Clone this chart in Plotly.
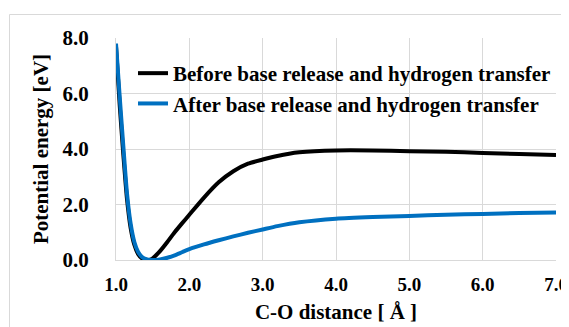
import plotly.graph_objects as go

# Data
x_before = [1.0, 1.05, 1.1, 1.15, 1.2, 1.25, 1.3, 1.35, 1.4, 1.45, 1.5, 1.55, 1.6, 1.7, 1.8, 1.9, 2.0,
            2.2, 2.4, 2.6, 2.8, 3.0, 3.2, 3.5, 4.0, 4.5, 5.0, 5.5, 6.0, 6.5, 7.0]
e_before = [7.7, 5.6, 3.8, 2.2, 1.15, 0.55, 0.22, 0.07, 0.02, 0.0, 0.06, 0.18, 0.32, 0.65, 1.0, 1.32, 1.63,
            2.25, 2.8, 3.2, 3.47, 3.62, 3.75, 3.88, 3.95, 3.95, 3.92, 3.9, 3.86, 3.82, 3.78]

x_after = [1.0, 1.05, 1.1, 1.15, 1.2, 1.25, 1.3, 1.35, 1.4, 1.5, 1.6, 1.7, 1.8, 1.9, 2.0,
           2.2, 2.4, 2.6, 2.8, 3.0, 3.2, 3.5, 4.0, 4.5, 5.0, 5.5, 6.0, 6.5, 7.0]
e_after = [7.8, 5.9, 4.1, 2.4, 1.3, 0.65, 0.3, 0.12, 0.04, 0.0, 0.02, 0.08, 0.17, 0.28, 0.39,
           0.56, 0.71, 0.85, 0.98, 1.1, 1.22, 1.36, 1.49, 1.55, 1.59, 1.63, 1.66, 1.69, 1.71]

series_names = ["Before base release and hydrogen transfer",
                "After base release and hydrogen transfer"]
series_colors = ["#000000", "#0070C0"]

x_ticks = [1, 2, 3, 4, 5, 6, 7]
x_ticklabels = ["1.0", "2.0", "3.0", "4.0", "5.0", "6.0", "7.0"]
y_ticks = [0, 2, 4, 6, 8]
y_ticklabels = ["0.0", "2.0", "4.0", "6.0", "8.0"]

FONT = "Liberation Serif, Times New Roman, serif"

fig = go.Figure()
for xs, ys, name, col in [(x_before, e_before, series_names[0], series_colors[0]),
                          (x_after, e_after, series_names[1], series_colors[1])]:
    fig.add_trace(go.Scatter(x=xs, y=ys, mode="lines", name="<b>%s</b>" % name,
                             line=dict(color=col, width=4, shape="spline", smoothing=0.6)))

# the page body has an 8px margin, so the figure is sized to fit the window
W, H = 561, 319
L, R, T, B = 108, 13, 30, 67
pw, ph = W - L - R, H - T - B

def px2paper_x(px):
    return (px - L) / pw

def px2paper_y(py):
    return (H - B - py) / ph

fig.update_layout(
    width=W, height=H,
    margin=dict(l=L, r=R, t=T, b=B, pad=0, autoexpand=False),
    paper_bgcolor="white", plot_bgcolor="white",
    font=dict(family=FONT, color="#000000"),
    showlegend=True,
    legend=dict(x=1.0, y=px2paper_y(45), xanchor="right", yanchor="top",
                bgcolor="rgba(0,0,0,0)", font=dict(family=FONT, size=21, color="#000000"),
                itemwidth=30, tracegroupgap=2),
    xaxis=dict(range=[1, 7], tickvals=x_ticks, ticktext=["<b>%s</b>" % t for t in x_ticklabels],
               showgrid=True, gridcolor="#D9D9D9", gridwidth=1, zeroline=False,
               showline=True, linecolor="#D9D9D9", linewidth=1,
               tickfont=dict(family=FONT, size=19, color="#000000"), ticks="outside", ticklen=7,
               tickcolor="rgba(0,0,0,0)", ticklabeloverflow="allow",
               title=dict(text="<b>C-O distance [ Å ]</b>", font=dict(family=FONT, size=21), standoff=10),
               mirror=False, fixedrange=True),
    yaxis=dict(range=[0, 8], tickvals=y_ticks, ticktext=["<b>%s</b>" % t for t in y_ticklabels],
               showgrid=True, gridcolor="#D9D9D9", gridwidth=1, zeroline=False,
               showline=True, linecolor="#D9D9D9", linewidth=1,
               tickfont=dict(family=FONT, size=21, color="#000000"), ticks="outside", ticklen=22,
               tickcolor="rgba(0,0,0,0)",
               title=dict(text="<b>Potential energy [eV]</b>", font=dict(family=FONT, size=21), standoff=8),
               fixedrange=True),
)

fig.add_shape(type="rect", xref="paper", yref="paper",
              x0=px2paper_x(1.5), x1=px2paper_x(570), y0=px2paper_y(340), y1=px2paper_y(6.5),
              line=dict(color="#D9D9D9", width=1), fillcolor="rgba(0,0,0,0)", layer="below")

fig.write_html("out.html")
